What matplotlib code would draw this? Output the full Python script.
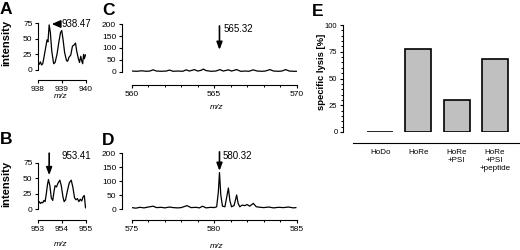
import matplotlib
matplotlib.use('Agg')
import matplotlib.pyplot as plt
from matplotlib.ticker import MultipleLocator

plt.rcParams['font.family'] = ['Liberation Sans', 'DejaVu Sans']

# spectrum A
a_mz = [938.00, 938.05, 938.10, 938.15, 938.20, 938.25, 938.32, 938.38, 938.42, 938.47,
        938.52, 938.58, 938.66, 938.72, 938.80, 938.88, 938.95, 939.00, 939.05, 939.12,
        939.20, 939.25, 939.30, 939.38, 939.45, 939.52, 939.58, 939.63, 939.70, 939.75,
        939.80, 939.84, 939.88, 939.92, 939.95, 940.00]
a_int = [12, 9, 13, 8, 10, 20, 35, 48, 45, 72,
         60, 30, 10, 12, 25, 45, 60, 63, 50, 28,
         15, 14, 20, 24, 38, 40, 43, 30, 18, 12,
         22, 15, 10, 25, 18, 24]

# spectrum B
b_mz = [953.00, 953.05, 953.10, 953.15, 953.20, 953.25, 953.30, 953.35, 953.40, 953.44,
        953.50, 953.56, 953.62, 953.68, 953.72, 953.78, 953.84, 953.92, 953.98, 954.05,
        954.10, 954.16, 954.24, 954.32, 954.40, 954.47, 954.54, 954.60, 954.66, 954.72,
        954.78, 954.84, 954.90, 954.95, 955.00]
b_int = [10, 12, 9, 11, 10, 14, 12, 25, 40, 48,
         38, 18, 14, 30, 38, 36, 42, 47, 38, 20,
         12, 15, 30, 43, 47, 35, 18, 15, 17, 12,
         16, 13, 20, 22, 2]

# spectrum C
c_mz = [560.0, 560.3, 560.6, 560.9, 561.1, 561.3, 561.5, 561.8, 562.1, 562.3,
        562.5, 562.8, 563.1, 563.3, 563.5, 563.8, 564.0, 564.2, 564.35, 564.5,
        564.8, 565.1, 565.35, 565.55, 565.86, 566.05, 566.36, 566.6, 566.9, 567.1,
        567.37, 567.6, 567.9, 568.1, 568.38, 568.6, 568.9, 569.1, 569.33, 569.55,
        569.8, 570.0]
c_int = [4, 3, 5, 3, 4, 9, 4, 3, 4, 8,
         3, 4, 3, 9, 4, 10, 4, 7, 12, 6,
         3, 4, 10, 4, 9, 4, 10, 3, 4, 3,
         9, 4, 3, 4, 10, 4, 3, 4, 10, 4,
         3, 3]

# spectrum D
d_mz = [575.0, 575.25, 575.5, 575.75, 576.0, 576.3, 576.5, 576.8, 577.0, 577.3,
        577.5, 577.8, 578.0, 578.35, 578.6, 578.9, 579.1, 579.3, 579.5, 579.8,
        580.0, 580.15, 580.25, 580.32, 580.4, 580.5, 580.65, 580.75, 580.86, 580.95,
        581.05, 581.2, 581.3, 581.36, 581.45, 581.55, 581.7, 581.85, 582.0, 582.15,
        582.37, 582.55, 582.8, 583.0, 583.3, 583.6, 583.9, 584.2, 584.5, 584.8,
        584.95]
d_int = [5, 3, 6, 4, 7, 10, 5, 6, 4, 7,
         5, 4, 5, 12, 5, 6, 4, 10, 4, 6,
         5, 8, 60, 130, 50, 10, 8, 40, 75, 30,
         8, 12, 35, 50, 20, 8, 14, 12, 16, 10,
         20, 8, 6, 5, 7, 4, 6, 5, 7, 4,
         5]

# lysis
groups = ['HoDo', 'HoRe', 'HoRe\n+PSI', 'HoRe\n+PSI\n+peptide']
lysis = [0, 78, 30, 68]

W, H = 520, 250
fig = plt.figure(figsize=(W / 100, H / 100), dpi=100)


def px_axes(x0, y0, x1, y1):
    return fig.add_axes([x0 / W, 1 - y1 / H, (x1 - x0) / W, (y1 - y0) / H])


def style(ax, left_out, bottom_out):
    for s in ['top', 'right']:
        ax.spines[s].set_visible(False)
    ax.spines['left'].set_position(('outward', left_out))
    ax.spines['bottom'].set_position(('outward', bottom_out))
    for s in ['left', 'bottom']:
        ax.spines[s].set_linewidth(0.8)
    ax.tick_params(which='major', length=2.5, width=0.8, pad=1.5, labelsize=6)
    ax.tick_params(which='minor', length=1.5, width=0.7)
    ax.patch.set_visible(False)


def arrow(ax, x0, y0, x1, y1, hl=0.45, hw=0.17):
    ax.annotate('', xy=(x1, y1), xytext=(x0, y0), annotation_clip=False,
                arrowprops=dict(arrowstyle='-|>,head_length=%s,head_width=%s' % (hl, hw),
                                mutation_scale=10, color='black', lw=1.2,
                                shrinkA=0, shrinkB=0))


# A
ax = px_axes(38, 23, 85.5, 70)
ax.plot(a_mz, a_int, color='black', lw=0.9)
ax.set_xlim(938, 940)
ax.set_ylim(0, 75)
ax.set_xticks([938, 939, 940])
ax.set_yticks([0, 25, 50, 75])
style(ax, 0, 7.2)
arrow(ax, 938.92, 73.4, 938.58, 73.4, hl=0.5, hw=0.22)
ax.text(938.98, 73.4, '938.47', fontsize=7, va='center', ha='left')

# B
ax = px_axes(38, 163, 85.5, 209)
ax.plot(b_mz, b_int, color='black', lw=0.9)
ax.set_xlim(953, 955)
ax.set_ylim(0, 75)
ax.set_xticks([953, 954, 955])
ax.set_yticks([0, 25, 50, 75])
style(ax, 0, 8)
arrow(ax, 953.47, 91, 953.47, 55)
ax.text(953.98, 87, '953.41', fontsize=7, va='center', ha='left')

# C
ax = px_axes(131.7, 24, 296.7, 72)
ax.plot(c_mz, c_int, color='black', lw=0.9)
ax.set_xlim(560, 570)
ax.set_ylim(0, 200)
ax.set_xticks([560, 565, 570])
ax.xaxis.set_minor_locator(MultipleLocator(1))
ax.set_yticks([0, 50, 100, 150, 200])
style(ax, 7.2, 9.4)
arrow(ax, 565.32, 192, 565.32, 92)
ax.text(565.55, 178, '565.32', fontsize=7, va='center', ha='left')

# D
ax = px_axes(131.7, 153, 296.7, 209)
ax.plot(d_mz, d_int, color='black', lw=0.9)
ax.set_xlim(575, 585)
ax.set_ylim(0, 200)
ax.set_xticks([575, 580, 585])
ax.xaxis.set_minor_locator(MultipleLocator(1))
ax.set_yticks([0, 50, 100, 150, 200])
style(ax, 7.2, 8)
arrow(ax, 580.32, 204, 580.32, 136)
ax.text(580.5, 189, '580.32', fontsize=7, va='center', ha='left')

# E
ax = px_axes(353, 25, 520, 132)
ax.bar(range(len(groups)), lysis, width=0.68, color='#c0c0c0',
       edgecolor='black', linewidth=1.2)
ax.set_xlim(-0.71, 3.66)
ax.set_ylim(0, 100)
ax.set_yticks([0, 25, 50, 75, 100])
ax.yaxis.set_minor_locator(MultipleLocator(5))
style(ax, 7.2, 8)
ax.set_xticks(range(len(groups)))
ax.set_xticklabels(groups, fontsize=5.8, linespacing=1.25)
ax.tick_params(axis='x', length=0, pad=4)
ax.tick_params(axis='y', labelsize=5.5)


def ftext(x, y, s, **kw):
    fig.text(x / W, 1 - y / H, s, **kw)


for lab, x, y in [('A', 0, 2), ('B', 0, 132), ('C', 102, 3), ('D', 102, 133), ('E', 312, 4)]:
    ftext(x, y, lab, fontsize=12.5, fontweight='bold', va='top', ha='left')

ftext(6, 43, 'intensity', fontsize=8, fontweight='bold', rotation=90, ha='center', va='center')
ftext(6, 184, 'intensity', fontsize=8, fontweight='bold', rotation=90, ha='center', va='center')
ftext(321, 72, 'specific lysis [%]', fontsize=6.8, fontweight='bold', rotation=90,
      ha='center', va='center')
for x, y in [(61, 97), (61, 245), (217, 108), (217, 247)]:
    ftext(x, y, 'm/z', fontsize=6, style='italic', ha='center', va='center')

fig.savefig('out.png', dpi=100)
plt.close(fig)
